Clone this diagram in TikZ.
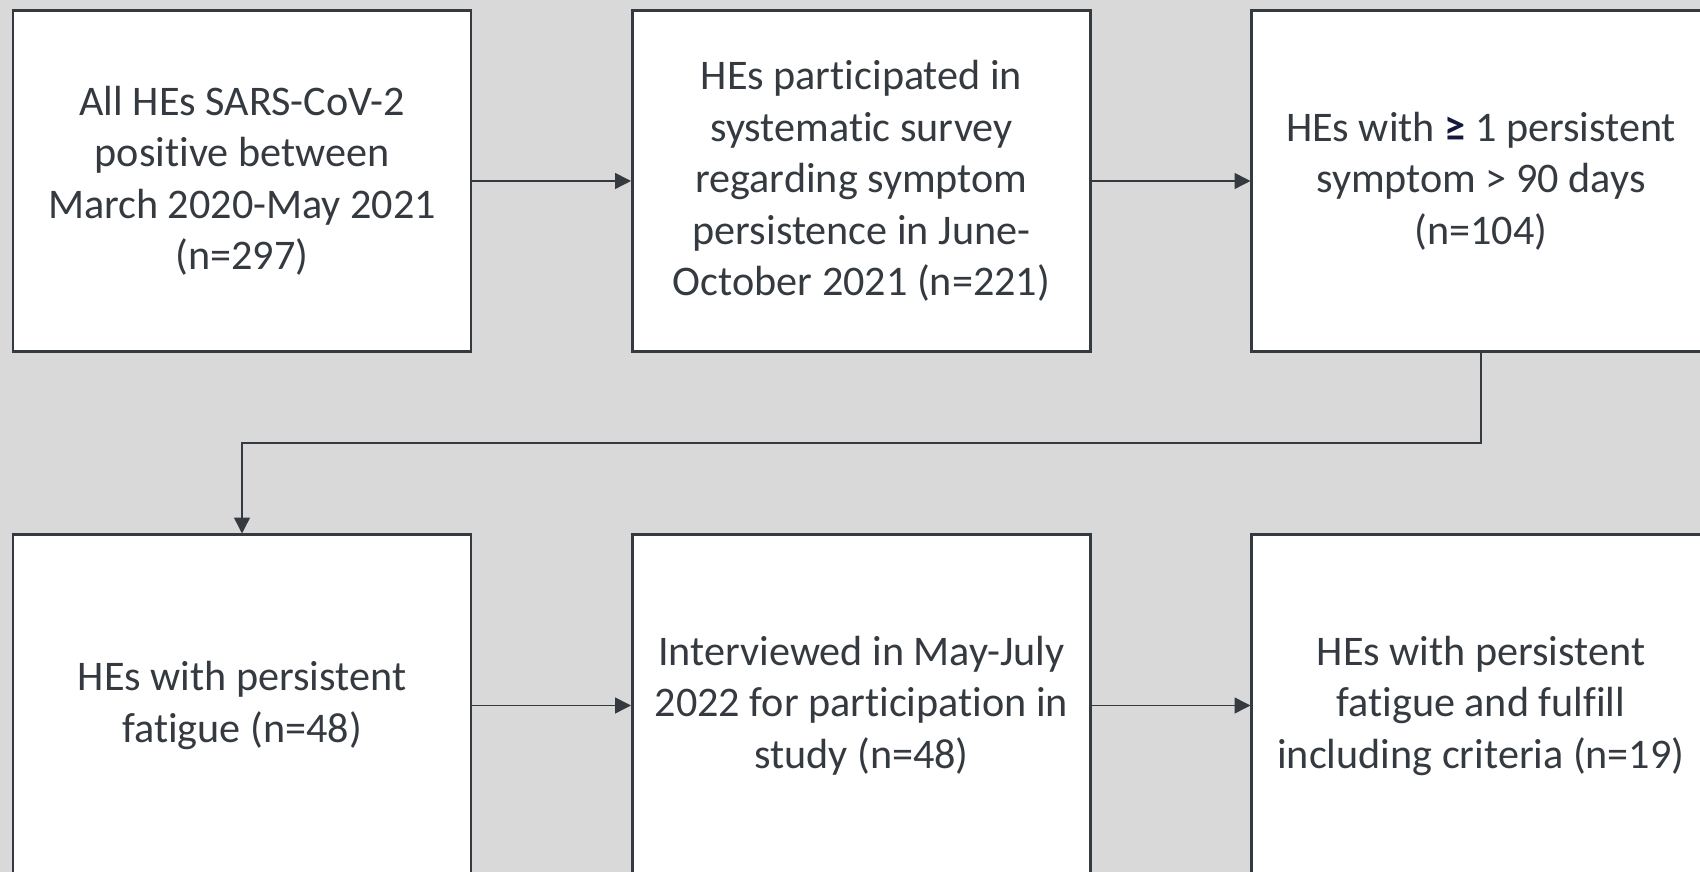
\documentclass[tikz,border=0pt]{standalone}
\usepackage{fontspec}
\setmainfont[RawFeature={-liga;-clig;-calt}]{Carlito}
\usetikzlibrary{positioning}
\usetikzlibrary{arrows.meta}

\definecolor{bgGray}{RGB}{217,217,217}
\definecolor{lineDark}{RGB}{52,58,64}
\definecolor{geqNavy}{RGB}{20,24,60}

\begin{document}
\begin{tikzpicture}[
    box/.style = {draw=lineDark, fill=white, line width=1.7pt,
      minimum width=9.16cm, minimum height=6.82cm, inner sep=0pt,
      align=center, text=lineDark,
      font=\fontsize{24}{29.3}\selectfont},
    flow/.style = {draw=lineDark, line width=0.85pt,
      -{Triangle[length=9pt, width=9pt]}},
    node distance = 3.17cm and 3.17cm
  ]
  \fill[bgGray] (0,0) rectangle (34,17.44);
  \useasboundingbox (0,0) rectangle (34,17.44);

  % first row
  \node[box] (all) at (4.84, 13.82)
    {All HEs SARS-CoV-2\\positive between\\March 2020-May 2021\\(n=297)};
  \node[box] (survey) [right = of all]
    {HEs participated in\\systematic survey\\regarding symptom\\persistence in June-\\October 2021 (n=221)};
  \node[box] (symptom) [right = of survey]
    {HEs with {\color{geqNavy}\textbf{≥}} 1 persistent\\symptom > 90 days\\(n=104)};

  % second row
  \node[box] (fatigue) at (4.84, 3.33)
    {HEs with persistent\\fatigue (n=48)};
  \node[box] (interview) [right = of fatigue]
    {Interviewed in May-July\\2022 for participation in\\study (n=48)};
  \node[box] (included) [right = of interview]
    {HEs with persistent\\fatigue and fulfill\\including criteria (n=19)};

  \coordinate (bend) at (4.84, 8.58);

  \draw[flow] (all) -- (survey);
  \draw[flow] (survey) -- (symptom);
  \draw[flow] (symptom.south) |- (bend) -- (fatigue.north);
  \draw[flow] (fatigue) -- (interview);
  \draw[flow] (interview) -- (included);
\end{tikzpicture}
\end{document}
